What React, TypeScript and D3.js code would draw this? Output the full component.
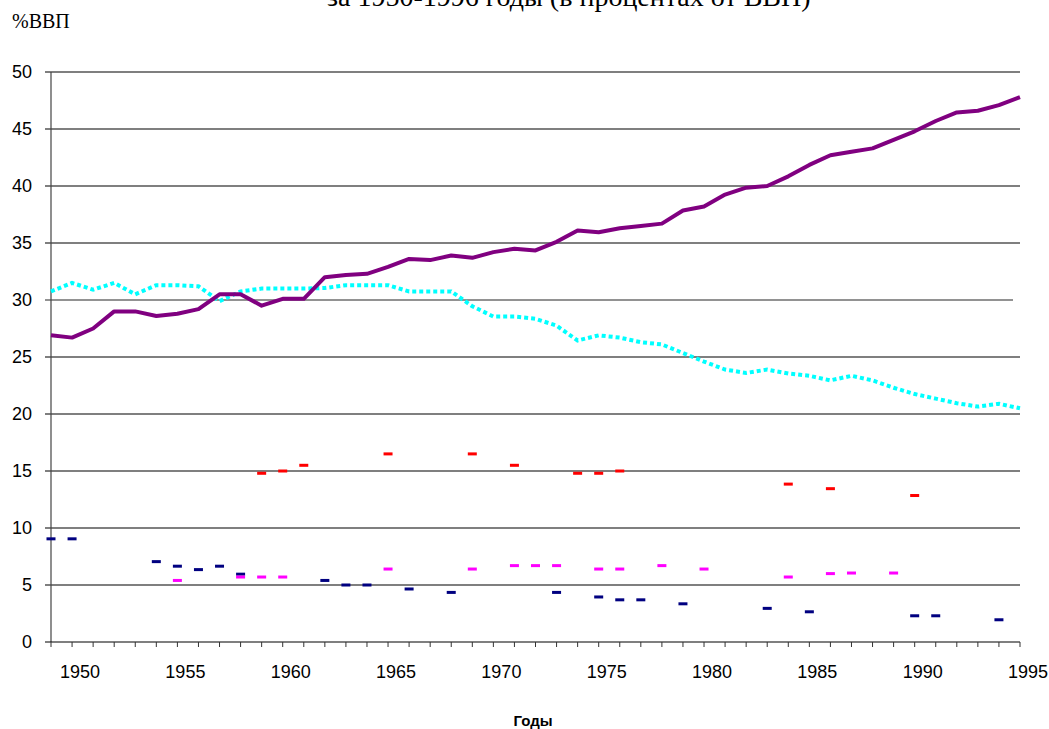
import { useRef, useEffect } from "react";
import { select, scaleLinear, line } from "d3";

const WIDTH = 1049;
const HEIGHT = 729;
const plot = { left: 51, right: 1020, top: 72, bottom: 642 };

// years on the category axis
const years = [
  1949, 1950, 1951, 1952, 1953, 1954, 1955, 1956, 1957, 1958, 1959, 1960,
  1961, 1962, 1963, 1964, 1965, 1966, 1967, 1968, 1969, 1970, 1971, 1972,
  1973, 1974, 1975, 1976, 1977, 1978, 1979, 1980, 1981, 1982, 1983, 1984,
  1985, 1986, 1987, 1988, 1989, 1990, 1991, 1992, 1993, 1994, 1995,
];
const yearLabels = [1950, 1955, 1960, 1965, 1970, 1975, 1980, 1985, 1990, 1995];
const yTicks = [0, 5, 10, 15, 20, 25, 30, 35, 40, 45, 50];

// purple solid line
const purpleValues = [
  26.9, 26.7, 27.5, 29.0, 29.0, 28.6, 28.8, 29.2, 30.5, 30.5, 29.5, 30.1,
  30.1, 32.0, 32.2, 32.3, 32.9, 33.6, 33.5, 33.9, 33.7, 34.2, 34.5, 34.35,
  35.1, 36.1, 35.95, 36.3, 36.5, 36.7, 37.85, 38.2, 39.25, 39.85, 40.0, 40.85,
  41.85, 42.7, 43.0, 43.3, 44.05, 44.8, 45.7, 46.45, 46.6, 47.1, 47.8,
];
// cyan dotted line
const cyanValues = [
  30.75, 31.5, 30.9, 31.5, 30.5, 31.3, 31.3, 31.2, 29.9, 30.75, 31.0, 31.0,
  31.0, 31.05, 31.3, 31.3, 31.3, 30.75, 30.75, 30.75, 29.45, 28.55, 28.55, 28.35,
  27.75, 26.45, 26.9, 26.7, 26.3, 26.1, 25.35, 24.6, 23.9, 23.6, 23.9, 23.55,
  23.35, 22.95, 23.35, 22.95, 22.3, 21.75, 21.35, 20.95, 20.65, 20.9, 20.5,
];

// marker-only series (year, value)
const redYears = [1959, 1960, 1961, 1965, 1969, 1971, 1974, 1975, 1976, 1984, 1986, 1990];
const redValues = [14.8, 15.0, 15.5, 16.5, 16.5, 15.5, 14.8, 14.8, 15.0, 13.85, 13.45, 12.85];

const magentaYears = [1955, 1958, 1959, 1960, 1965, 1969, 1971, 1972, 1973, 1975, 1976, 1978, 1980, 1984, 1986, 1987, 1989];
const magentaValues = [5.4, 5.7, 5.7, 5.7, 6.4, 6.4, 6.7, 6.7, 6.7, 6.4, 6.4, 6.7, 6.4, 5.7, 6.0, 6.05, 6.05];

const navyYears = [1949, 1950, 1954, 1955, 1956, 1957, 1958, 1962, 1963, 1964, 1966, 1968, 1973, 1975, 1976, 1977, 1979, 1983, 1985, 1990, 1991, 1994];
const navyValues = [9.05, 9.05, 7.05, 6.65, 6.35, 6.65, 5.95, 5.4, 5.0, 5.0, 4.65, 4.35, 4.35, 3.95, 3.7, 3.7, 3.35, 2.95, 2.65, 2.3, 2.3, 1.95];

const SANS = "Arial, 'Liberation Sans', sans-serif";
const SERIF = "'Times New Roman', 'Liberation Serif', serif";

function App() {
  const svgRef = useRef<SVGSVGElement>(null);

  useEffect(() => {
    const svg = select(svgRef.current);
    svg.selectAll("*").remove();

    const x = scaleLinear().domain([1949, 1995]).range([plot.left, plot.right]);
    const y = scaleLinear().domain([0, 50]).range([plot.bottom, plot.top]);

    // title (cut off at top) and units
    svg.append("text")
      .attr("x", 327).attr("y", 6)
      .style("font-family", SERIF).style("font-size", "28px")
      .text("за 1950-1996 годы (в процентах от ВВП)");
    svg.append("text")
      .attr("x", 12).attr("y", 28)
      .style("font-family", SERIF).style("font-size", "20px")
      .text("%ВВП");

    // gridlines
    svg.append("g")
      .selectAll("line")
      .data(yTicks.filter((t) => t > 0))
      .join("line")
      .attr("x1", plot.left - 6)
      .attr("x2", (t) => (t === 30 ? plot.right - 7 : plot.right))
      .attr("y1", (t) => y(t)).attr("y2", (t) => y(t))
      .attr("stroke", (t) => (t === 30 ? "#6e6e6e" : "#000"))
      .attr("stroke-width", (t) => (t === 30 ? 1.6 : 1.2));

    // y axis
    svg.append("line")
      .attr("x1", plot.left).attr("x2", plot.left)
      .attr("y1", y(50)).attr("y2", y(0))
      .attr("stroke", "#444").attr("stroke-width", 1.2);
    svg.append("g")
      .selectAll("text")
      .data(yTicks)
      .join("text")
      .attr("x", 32).attr("y", (t) => y(t))
      .attr("dy", "0.35em")
      .attr("text-anchor", "end")
      .style("font-family", SANS).style("font-size", "18px")
      .text((t) => t);

    // x axis
    svg.append("line")
      .attr("x1", plot.left - 6).attr("x2", plot.right)
      .attr("y1", y(0)).attr("y2", y(0))
      .attr("stroke", "#000").attr("stroke-width", 1.2);
    svg.append("g")
      .selectAll("line")
      .data(years)
      .join("line")
      .attr("x1", (d) => x(d)).attr("x2", (d) => x(d))
      .attr("y1", y(0)).attr("y2", y(0) + 5)
      .attr("stroke", "#333");
    svg.append("g")
      .selectAll("text")
      .data(yearLabels)
      .join("text")
      .attr("x", (d) => x(d) + 8).attr("y", 678)
      .attr("text-anchor", "middle")
      .style("font-family", SANS).style("font-size", "18px")
      .text((d) => d);
    svg.append("text")
      .attr("x", 533).attr("y", 726)
      .attr("text-anchor", "middle")
      .style("font-family", SANS).style("font-size", "15px").style("font-weight", "bold")
      .text("Годы");

    // lines
    const pathLine = line<number>()
      .x((_, i) => x(years[i]))
      .y((d) => y(d));
    svg.append("path")
      .attr("d", pathLine(cyanValues))
      .attr("fill", "none")
      .attr("stroke", "#00FFFF")
      .attr("stroke-width", 4)
      .attr("stroke-dasharray", "4,3");
    svg.append("path")
      .attr("d", pathLine(purpleValues))
      .attr("fill", "none")
      .attr("stroke", "#800080")
      .attr("stroke-width", 4)
      .attr("stroke-linejoin", "round");

    // dash markers
    const markers = [
      { ys: navyYears, vs: navyValues, color: "#000080" },
      { ys: magentaYears, vs: magentaValues, color: "#FF00FF" },
      { ys: redYears, vs: redValues, color: "#FF0000" },
    ];
    markers.forEach(({ ys, vs, color }) => {
      svg.append("g")
        .selectAll("rect")
        .data(ys.map((yr, i) => ({ yr, v: vs[i] })))
        .join("rect")
        .attr("x", (d) => x(d.yr) - 4.5)
        .attr("y", (d) => y(d.v) - 1.5)
        .attr("width", 9)
        .attr("height", 3)
        .attr("fill", color);
    });
  }, []);

  return (
    <svg
      ref={svgRef}
      width={WIDTH}
      height={HEIGHT}
      style={{ position: "absolute", left: 0, top: 0, background: "#fff" }}
    />
  );
}

export default App;
